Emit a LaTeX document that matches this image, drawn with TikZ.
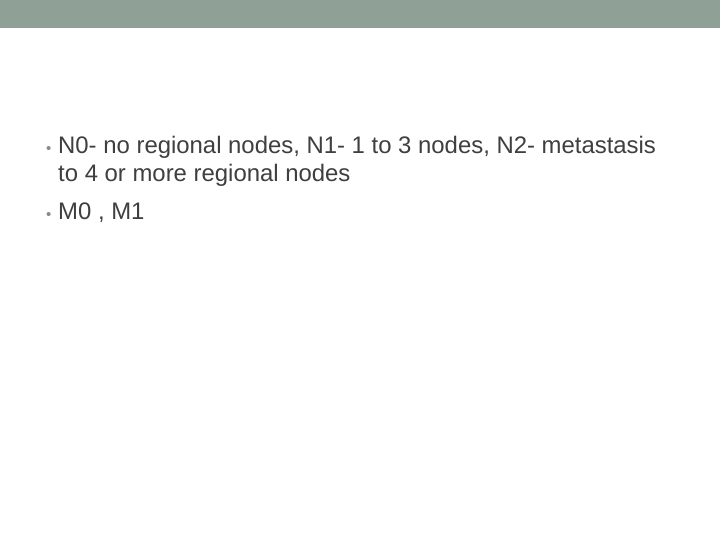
\documentclass[tikz,border=0pt]{standalone}
\usepackage{fontspec}
\setmainfont{Liberation Sans}
\definecolor{bar}{HTML}{8FA197}
\definecolor{txt}{HTML}{3F3F3F}
\definecolor{bul}{HTML}{7F8F87}
\begin{document}
\begin{tikzpicture}[x=1pt,y=-1pt,
  line/.style={anchor=base west,inner sep=0pt,text=txt,font=\fontsize{23.9}{28}\selectfont},
  bullet/.style={anchor=base west,inner sep=0pt,text=bul,font=\fontsize{15}{18}\selectfont}]
\useasboundingbox (0,0) rectangle (720,540);
\fill[white] (0,0) rectangle (720,540);
\fill[bar] (0,0) rectangle (720,28);
\node[bullet] (b1) at (46,154) {•};
\node[line] (t1) at (58,154) {N0- no regional nodes, N1- 1 to 3 nodes, N2- metastasis};
\node[line] (t2) at (58,182) {to 4 or more regional nodes};
\node[bullet] (b2) at (46,220) {•};
\node[line] (t3) at (58,220) {M0 , M1};
\end{tikzpicture}
\end{document}
